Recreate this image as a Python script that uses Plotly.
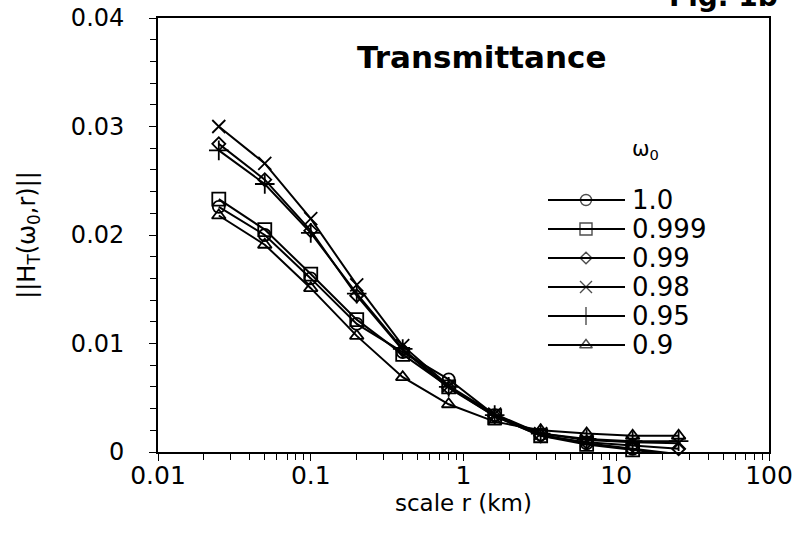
import plotly.graph_objects as go

# ---- data ----
scale_r = [0.025, 0.05, 0.1, 0.2, 0.4, 0.8, 1.6, 3.2, 6.4, 12.8, 25.6]
omega_labels = ["1.0", "0.999", "0.99", "0.98", "0.95", "0.9"]
h_1000 = [0.0226, 0.0200, 0.0160, 0.0118, 0.0092, 0.0067, 0.0034, 0.0016, 0.0008, 0.0003, -0.0002]
h_0999 = [0.0233, 0.0205, 0.0164, 0.0122, 0.0090, 0.0060, 0.0033, 0.0015, 0.0007, 0.0002, -0.0003]
h_0990 = [0.0284, 0.0251, 0.0204, 0.0144, 0.0094, 0.0059, 0.0033, 0.0015, 0.0009, 0.0006, 0.0003]
h_0980 = [0.0300, 0.0266, 0.0215, 0.0154, 0.0098, 0.0061, 0.0035, 0.0017, 0.0011, 0.0009, 0.0008]
h_0950 = [0.0278, 0.0247, 0.0202, 0.0146, 0.0095, 0.0060, 0.0034, 0.0017, 0.0012, 0.0010, 0.0010]
h_0900 = [0.0218, 0.0191, 0.0151, 0.0107, 0.0069, 0.0044, 0.0028, 0.0020, 0.0017, 0.0015, 0.0015]
series = [h_1000, h_0999, h_0990, h_0980, h_0950, h_0900]

x_tickvals = [0.01, 0.1, 1, 10, 100]
x_ticktext = ["0.01", "0.1", "1", "10", "100"]
y_tickvals = [0, 0.01, 0.02, 0.03, 0.04]
y_ticktext = ["0", "0.01", "0.02", "0.03", "0.04"]

# ---- styles ----
symbols = ["circle-open", "square-open", "diamond-open", "x-thin-open", "cross-thin-open", "triangle-up-open"]
sizes = [12, 13, 10, 13, 14, 12]
FONT = "DejaVu Sans, Liberation Sans, Arial, sans-serif"

W, H = 801, 533
L, R, T, B = 158, 32, 18, 81
pw, ph = W - L - R, H - T - B

def px2x(px):
    return (px - L) / pw

def px2y(py):
    return (H - B - py) / ph

fig = go.Figure()
for lab, ys, sym, sz in zip(omega_labels, series, symbols, sizes):
    fig.add_trace(go.Scatter(
        x=scale_r, y=ys, mode="lines+markers", name=lab, showlegend=False,
        line=dict(color="black", width=2),
        marker=dict(symbol=sym, size=sz, color="black", line=dict(color="black", width=1.8)),
        cliponaxis=False,
    ))

# custom legend on an overlay axis (0..1 in both directions)
row_y = [200, 229, 258, 287, 316, 345]
for lab, sym, sz, py in zip(omega_labels, symbols, sizes, row_y):
    yy = px2y(py)
    fig.add_trace(go.Scatter(
        x=[px2x(548), px2x(586), px2x(625)], y=[yy, yy, yy],
        xaxis="x2", yaxis="y2", mode="lines+markers", showlegend=False,
        line=dict(color="black", width=1.8),
        marker=dict(symbol=sym, size=[0, sz - 1, 0], color="black", line=dict(color="black", width=1.4)),
        hoverinfo="skip",
    ))
    fig.add_annotation(x=px2x(630), y=yy, xref="x2", yref="y2", text=lab, showarrow=False,
                       xanchor="left", yanchor="middle", font=dict(size=26, color="black", family=FONT))

fig.add_annotation(x=px2x(630), y=px2y(150), xref="x2", yref="y2", text="ω<sub>0</sub>", showarrow=False,
                   xanchor="left", yanchor="middle", font=dict(size=21, color="black", family=FONT))
fig.add_annotation(x=px2x(481), y=px2y(57), xref="x2", yref="y2", text="<b>Transmittance</b>", showarrow=False,
                   xanchor="center", yanchor="middle", font=dict(size=31, color="black", family=FONT))
fig.add_annotation(x=1.018, y=1.006, xref="paper", yref="paper", text="<b>Fig. 1b</b>", showarrow=False,
                   xanchor="right", yanchor="bottom", font=dict(size=28, color="black", family=FONT))

axis_common = dict(showline=True, linecolor="black", linewidth=1.8, mirror=True, showgrid=False,
                   zeroline=False, ticks="outside", tickcolor="black", ticklen=7, tickwidth=1.3,
                   automargin=False)

fig.update_layout(
    width=W, height=H, margin=dict(l=L, r=R, t=T, b=B),
    paper_bgcolor="white", plot_bgcolor="white",
    xaxis=dict(type="log", range=[-2, 2], tickvals=x_tickvals, ticktext=x_ticktext,
               tickfont=dict(size=25, color="black", family=FONT), ticklabelstandoff=-7,
               minor=dict(ticks="outside", ticklen=6, tickwidth=1.2, tickcolor="black", dtick="D1", showgrid=False),
               title=dict(text="scale r (km)", font=dict(size=23, color="black", family=FONT), standoff=0),
               **axis_common),
    yaxis=dict(range=[0, 0.04], tickvals=y_tickvals, ticktext=y_ticktext,
               tickfont=dict(size=24, color="black", family=FONT), ticklabelstandoff=20,
               minor=dict(ticks="outside", ticklen=6, tickwidth=1.2, tickcolor="black", dtick=0.002, showgrid=False),
               title=dict(text="||H<sub>T</sub>(ω<sub>0</sub>,r)||", font=dict(size=24, color="black", family=FONT), standoff=28),
               **axis_common),
    xaxis2=dict(range=[0, 1], overlaying="x", visible=False, fixedrange=True),
    yaxis2=dict(range=[0, 1], overlaying="y", visible=False, fixedrange=True, anchor="x2"),
    showlegend=False,
)

fig.write_html("out.html")
